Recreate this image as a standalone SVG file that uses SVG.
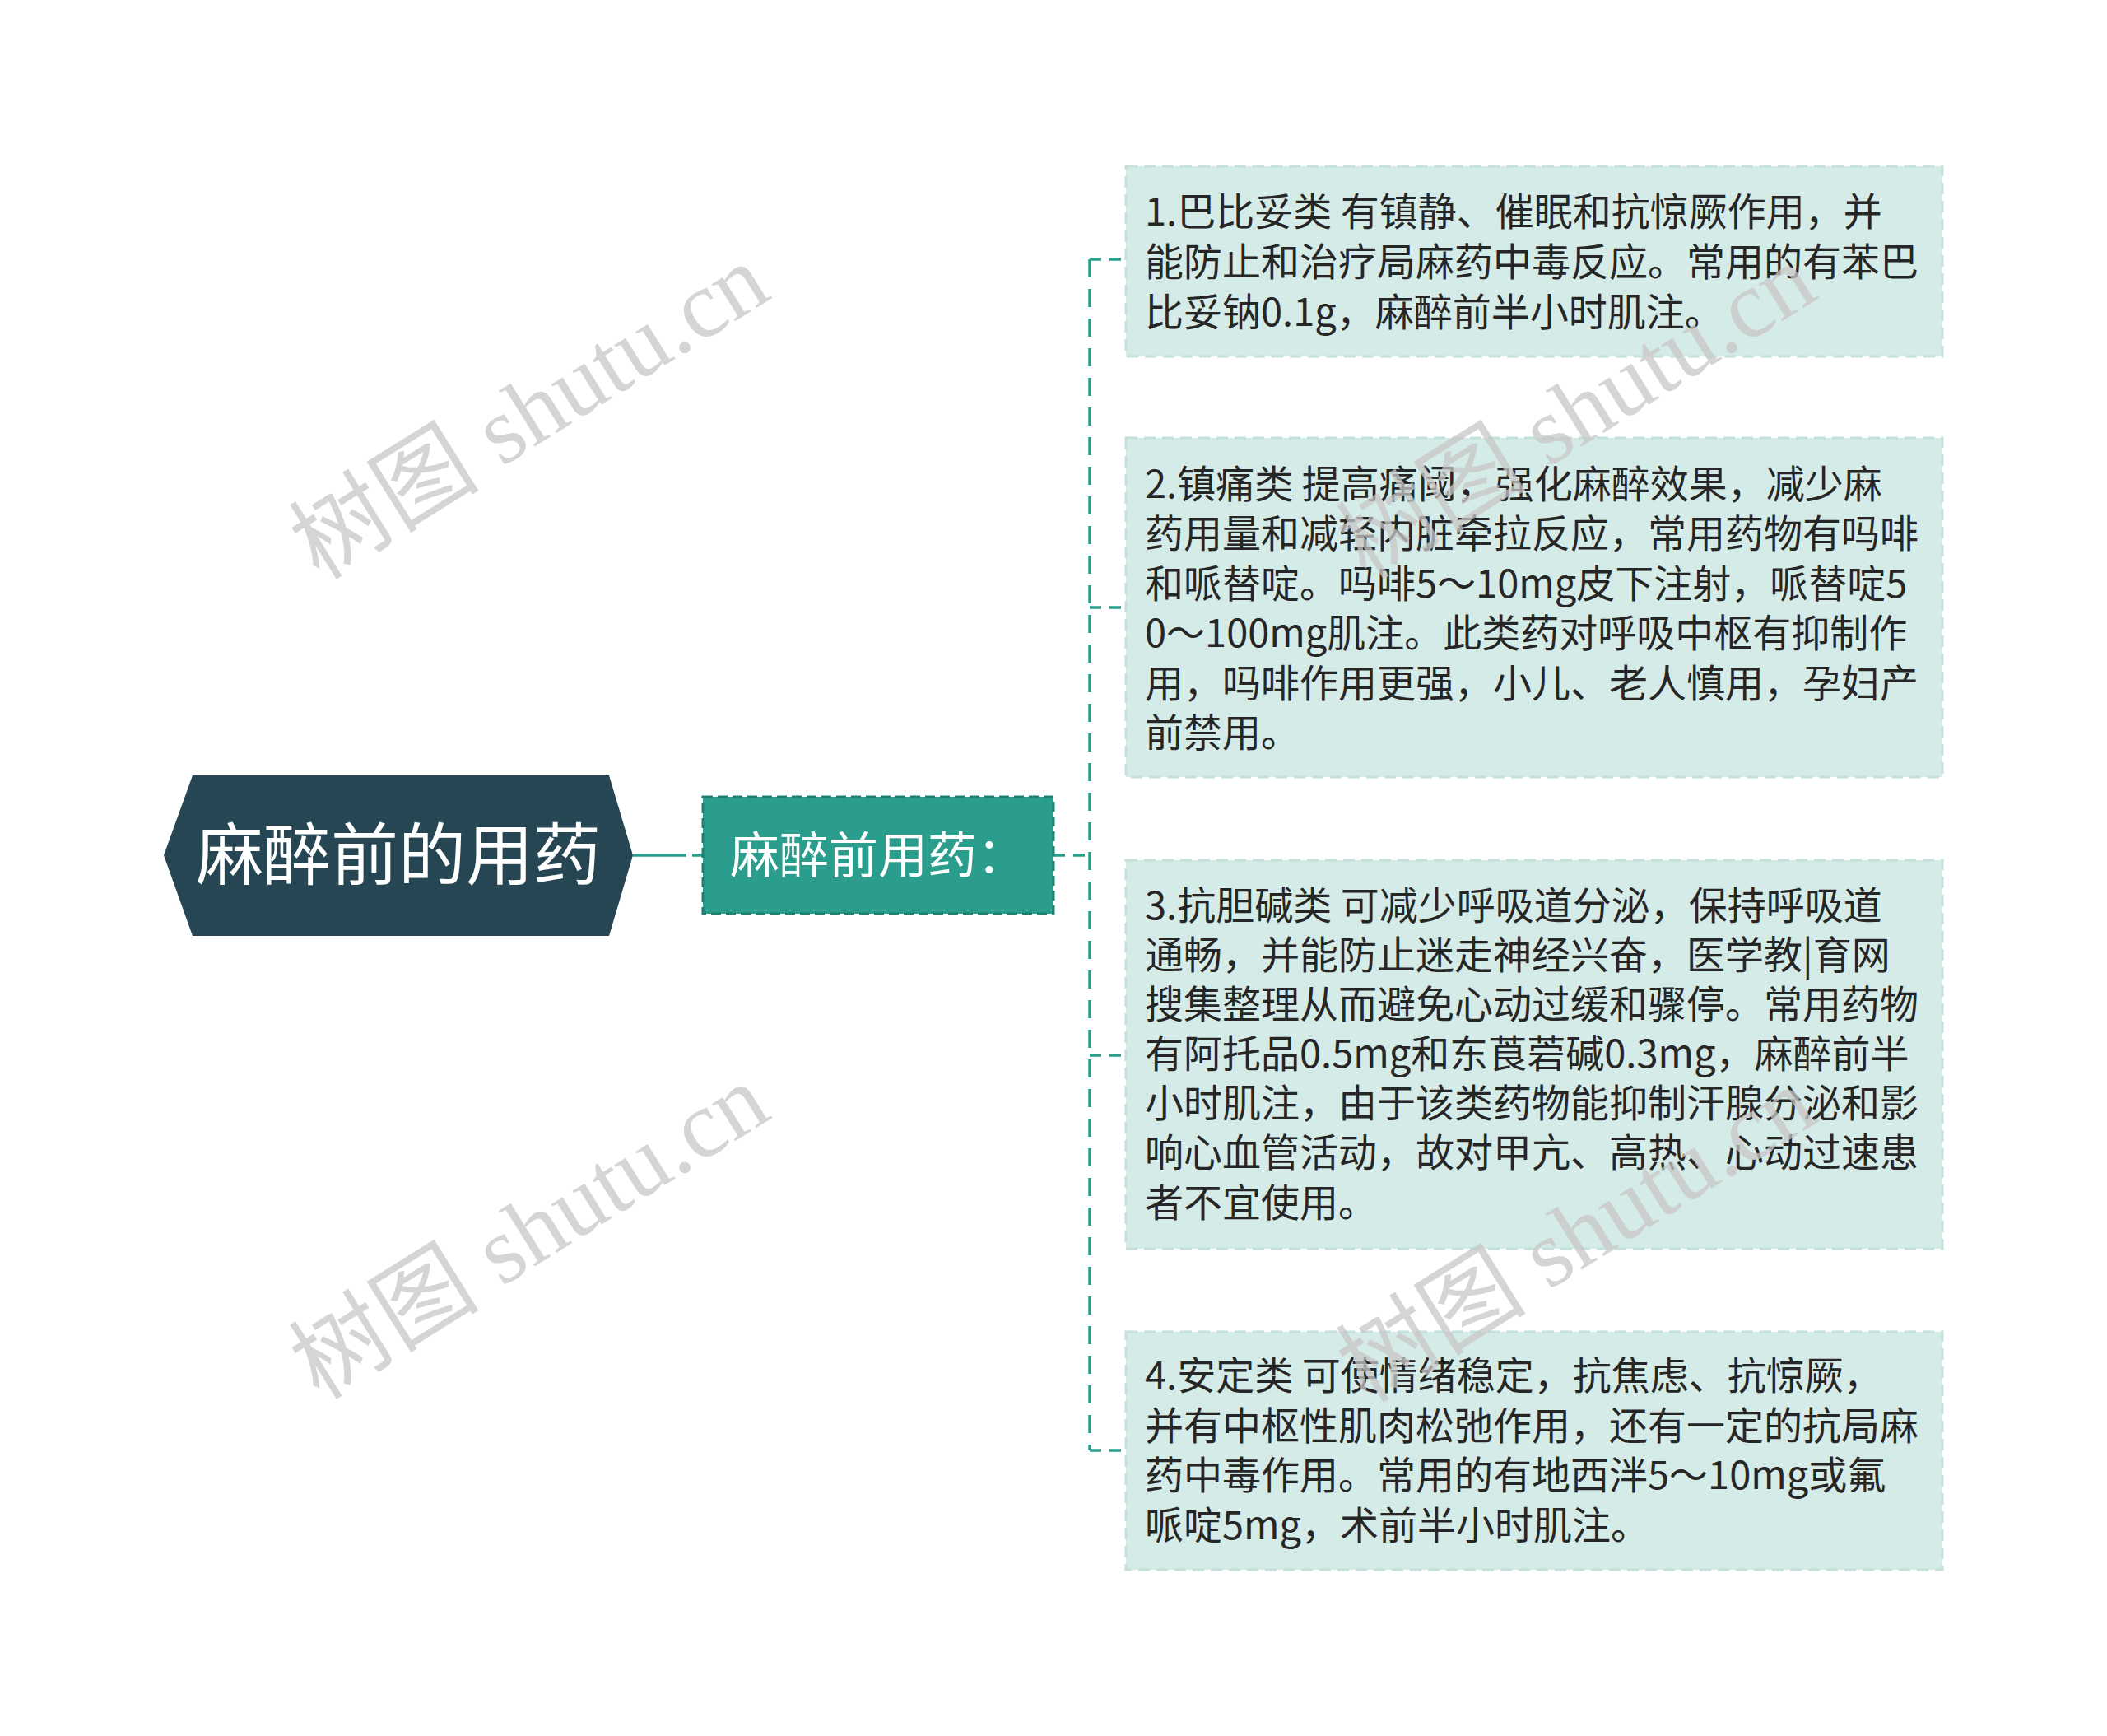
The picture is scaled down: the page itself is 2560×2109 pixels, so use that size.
<svg xmlns="http://www.w3.org/2000/svg" width="2560" height="2109" viewBox="0 0 2560 2109">
<style>
.bg{fill:#ffffff}
.leaf{fill:#d5ebe7;stroke:#c3e0da;stroke-width:3;stroke-dasharray:14 8}
.lt{font-family:"Noto Sans CJK SC","Noto Sans",sans-serif;font-size:47px;fill:#262626}
.con{fill:none;stroke:#2a9d8c;stroke-width:3.5}
.wm{font-family:"Liberation Serif","Noto Sans CJK SC",serif;font-size:116px;fill:#c8c8c8;opacity:0.75}
</style>
<rect class="bg" x="0" y="0" width="2560" height="2109"/>
<g id="connectors">
<path class="con" d="M769 1039 H834"/>
<path class="con" d="M841 1039 H854"/>
<path class="con" stroke-dasharray="14 10" d="M1280 1039 H1324"/>
<path class="con" stroke-dasharray="22 14" d="M1324 315 V1762"/>
<path class="con" stroke-dasharray="14 10" d="M1324 315 H1368"/>
<path class="con" stroke-dasharray="14 10" d="M1324 738 H1368"/>
<path class="con" stroke-dasharray="14 10" d="M1324 1282 H1368"/>
<path class="con" stroke-dasharray="14 10" d="M1324 1762 H1368"/>
</g>
<g id="root">
<polygon points="199,1039 234,942 740,942 769,1039 740,1137 234,1137" fill="#264653"/>
<text x="484" y="1068" text-anchor="middle" font-family="Noto Sans CJK SC, sans-serif" font-size="82" fill="#ffffff">麻醉前的用药</text>
</g>
<g id="sub">
<rect x="854" y="968" width="426" height="142" fill="#2a9d8c" stroke="#217f72" stroke-width="3" stroke-dasharray="12 6"/>
<text x="887" y="1061" font-family="Noto Sans CJK SC, sans-serif" font-size="60" fill="#ffffff">麻醉前用药：</text>
</g>
<g id="leaf1">
<rect class="leaf" x="1368" y="202" width="992" height="231"/>
<text class="lt"><tspan x="1391" y="274">1.巴比妥类 有镇静、催眠和抗惊厥作用，并</tspan><tspan x="1391" y="335">能防止和治疗局麻药中毒反应。常用的有苯巴</tspan><tspan x="1391" y="396">比妥钠0.1g，麻醉前半小时肌注。</tspan></text>
</g>
<g id="leaf2">
<rect class="leaf" x="1368" y="532" width="992" height="412"/>
<text class="lt"><tspan x="1391" y="605">2.镇痛类 提高痛阈，强化麻醉效果，减少麻</tspan><tspan x="1391" y="665">药用量和减轻内脏牵拉反应，常用药物有吗啡</tspan><tspan x="1391" y="726">和哌替啶。吗啡5～10mg皮下注射，哌替啶5</tspan><tspan x="1391" y="786">0～100mg肌注。此类药对呼吸中枢有抑制作</tspan><tspan x="1391" y="847">用，吗啡作用更强，小儿、老人慎用，孕妇产</tspan><tspan x="1391" y="907">前禁用。</tspan></text>
</g>
<g id="leaf3">
<rect class="leaf" x="1368" y="1045" width="992" height="472"/>
<text class="lt"><tspan x="1391" y="1117">3.抗胆碱类 可减少呼吸道分泌，保持呼吸道</tspan><tspan x="1391" y="1177">通畅，并能防止迷走神经兴奋，医学教|育网</tspan><tspan x="1391" y="1237">搜集整理从而避免心动过缓和骤停。常用药物</tspan><tspan x="1391" y="1297">有阿托品0.5mg和东莨菪碱0.3mg，麻醉前半</tspan><tspan x="1391" y="1357">小时肌注，由于该类药物能抑制汗腺分泌和影</tspan><tspan x="1391" y="1417">响心血管活动，故对甲亢、高热、心动过速患</tspan><tspan x="1391" y="1478">者不宜使用。</tspan></text>
</g>
<g id="leaf4">
<rect class="leaf" x="1368" y="1618" width="992" height="289"/>
<text class="lt"><tspan x="1391" y="1688">4.安定类 可使情绪稳定，抗焦虑、抗惊厥，</tspan><tspan x="1391" y="1749">并有中枢性肌肉松弛作用，还有一定的抗局麻</tspan><tspan x="1391" y="1809">药中毒作用。常用的有地西泮5～10mg或氟</tspan><tspan x="1391" y="1870">哌啶5mg，术前半小时肌注。</tspan></text>
</g>
<g id="watermarks">
<text class="wm" transform="translate(388 706) rotate(-32)">树图 shutu.cn</text>
<text class="wm" transform="translate(1660 706) rotate(-32)">树图 shutu.cn</text>
<text class="wm" transform="translate(388 1702) rotate(-32)">树图 shutu.cn</text>
<text class="wm" transform="translate(1660 1706) rotate(-32)">树图 shutu.cn</text>
</g>
</svg>
